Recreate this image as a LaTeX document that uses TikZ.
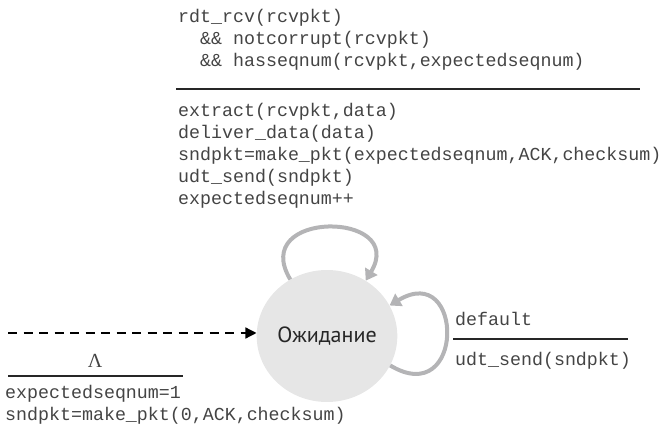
\documentclass[tikz,border=0pt]{standalone}
\usepackage{fontspec}
\setmonofont{Liberation Mono}
\setsansfont{PT Sans}
\newfontfamily\greekserif{Liberation Serif}
\usetikzlibrary{arrows.meta,shapes.geometric}
\definecolor{txt}{HTML}{444444}
\definecolor{loopgray}{HTML}{B4B4B6}
\definecolor{statefill}{HTML}{E6E6E6}
\tikzset{
  code/.style={font=\fontsize{18.3}{22}\selectfont\ttfamily, text=txt, inner sep=0pt, anchor=base west},
  bar/.style={line width=1.1pt, draw=black!85},
  loopline/.style={draw=loopgray, line width=4pt, -{Triangle[length=11pt,width=14pt]}},
  state/.style={ellipse, fill=statefill, minimum width=138pt, minimum height=132pt, inner sep=0pt, font=\fontsize{22}{26}\selectfont\sffamily, text=black!85},
}
\begin{document}
\begin{tikzpicture}[x=1pt,y=1pt]
\useasboundingbox (0,0) rectangle (663,425);
\node[state] (w) at (327,89) {Ожидание};
\draw[loopline] (w.123) .. controls +(-42,70) and +(42,70) .. (w.55);
\draw[loopline] (w.-25) .. controls +(75,-45) and +(75,45) .. (w.26);
% top label
\node[code] (t1) at (178,402) {rdt\_rcv(rcvpkt)};
\node[code] (t2) at (178,380) {\ \ \&\& notcorrupt(rcvpkt)};
\node[code] (t3) at (178,358) {\ \ \&\& hasseqnum(rcvpkt,expectedseqnum)};
\coordinate (tl) at (176,336);
\coordinate (tr) at (640,336);
\draw[bar] (tl) -- (tr);
\node[code] (a1) at (178,308) {extract(rcvpkt,data)};
\node[code] (a2) at (178,286) {deliver\_data(data)};
\node[code] (a3) at (178,264) {sndpkt=make\_pkt(expectedseqnum,ACK,checksum)};
\node[code] (a4) at (178,242) {udt\_send(sndpkt)};
\node[code] (a5) at (178,220) {expectedseqnum++};
% initial arrow
\coordinate (s) at (8,92);
\draw[line width=1.3pt, black, dash pattern=on 9pt off 6.5pt, -{Triangle[length=11pt,width=11pt]}] (s) -- (s -| w.west);
\node[font=\fontsize{20}{24}\selectfont\greekserif, text=txt, anchor=base, inner sep=0pt] (lam) at (95,57) {Λ};
\coordinate (ll) at (8,49);
\coordinate (lr) at (183,49);
\draw[bar] (ll) -- (lr);
\node[code] (l1) at (5,26) {expectedseqnum=1};
\node[code] (l2) at (5,4) {sndpkt=make\_pkt(0,ACK,checksum)};
% right label
\node[code] (r1) at (455,99) {default};
\coordinate (rl) at (453,86);
\coordinate (rr) at (628,86);
\draw[bar] (rl) -- (rr);
\node[code] (r2) at (455,59) {udt\_send(sndpkt)};
\end{tikzpicture}
\end{document}
